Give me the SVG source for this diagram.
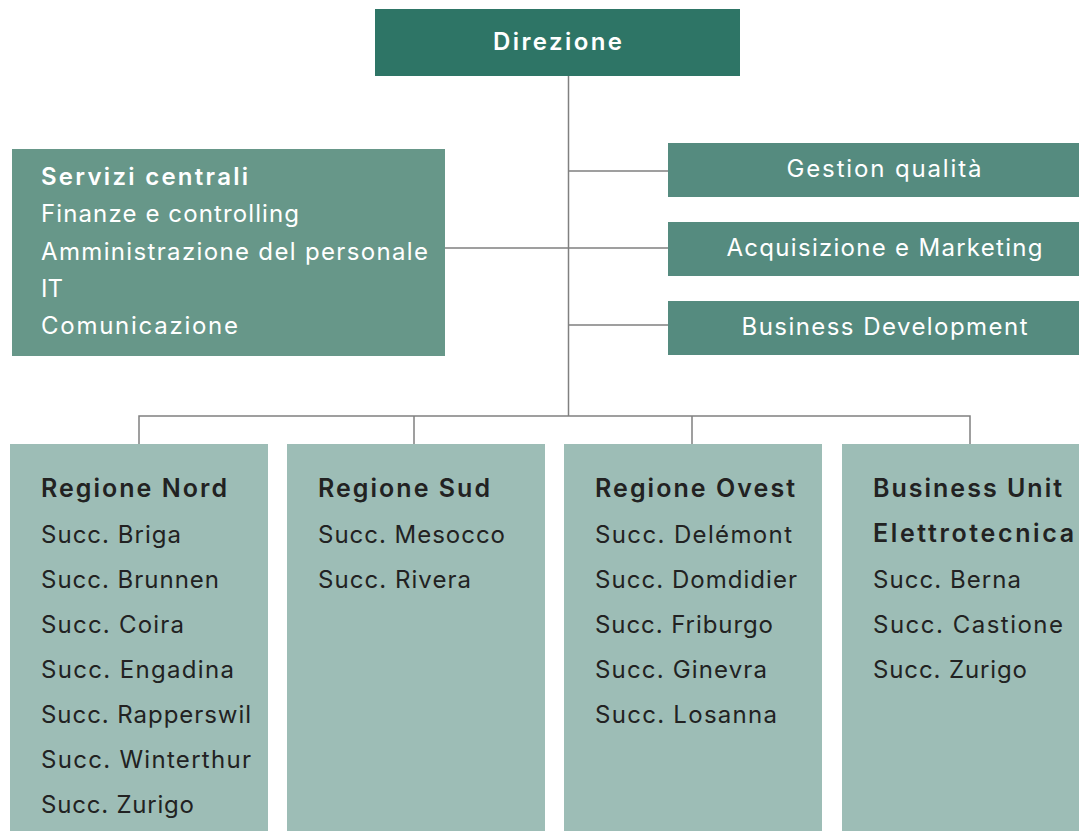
<svg xmlns="http://www.w3.org/2000/svg" width="1079" height="831" viewBox="0 0 1079 831">
<style>
.top{fill:#2e7566}
.sc{fill:#679789}
.rb{fill:#558b7f}
.bb{fill:#9dbdb6}
text{font-family:Inter,"Liberation Sans",sans-serif}
.w{fill:#ffffff;font-size:24px}
.wb{fill:#ffffff;font-size:24px;font-weight:600}
.d{fill:#222222;font-size:24px}
.db{fill:#222222;font-size:25px;font-weight:600}
.c{text-anchor:middle}
.ln{stroke:#808080;stroke-width:1.5;fill:none}
</style>
<g id="connectors">
<path class="ln" d="M568.5 76V416M568.5 171H668M445 248H668M568.5 325H668M139 444V416H970V444M414 416V444M692 416V444"/>
</g>
<g id="direzione"><rect class="top" x="375" y="9" width="365" height="67"/><text class="wb c" x="557.5" y="50" font-size="26" textLength="129" lengthAdjust="spacing">Direzione</text></g>
<g id="servizi"><rect class="sc" x="12" y="149" width="433" height="207"/>
<text class="wb" x="41" y="185" textLength="207" lengthAdjust="spacing">Servizi centrali</text>
<text class="w" x="41" y="222" textLength="258" lengthAdjust="spacing">Finanze e controlling</text>
<text class="w" x="41" y="259.5" textLength="387" lengthAdjust="spacing">Amministrazione del personale</text>
<text class="w" x="41" y="297">IT</text>
<text class="w" x="41" y="334" textLength="197" lengthAdjust="spacing">Comunicazione</text></g>
<g id="gestion"><rect class="rb" x="668" y="143" width="411" height="54"/><text class="w c" x="884" y="177" textLength="195" lengthAdjust="spacing">Gestion qualità</text></g>
<g id="acquisizione"><rect class="rb" x="668" y="222" width="411" height="54"/><text class="w c" x="884.5" y="256" textLength="316" lengthAdjust="spacing">Acquisizione e Marketing</text></g>
<g id="business"><rect class="rb" x="668" y="301" width="411" height="54"/><text class="w c" x="884.5" y="335" textLength="286" lengthAdjust="spacing">Business Development</text></g>
<g id="nord"><rect class="bb" x="10" y="444" width="258" height="387"/>
<text class="db" x="41" y="497" textLength="186" lengthAdjust="spacing">Regione Nord</text>
<text class="d" x="41" y="543" textLength="140" lengthAdjust="spacing">Succ. Briga</text>
<text class="d" x="41" y="588" textLength="178" lengthAdjust="spacing">Succ. Brunnen</text>
<text class="d" x="41" y="633" textLength="143" lengthAdjust="spacing">Succ. Coira</text>
<text class="d" x="41" y="678" textLength="193" lengthAdjust="spacing">Succ. Engadina</text>
<text class="d" x="41" y="723" textLength="210" lengthAdjust="spacing">Succ. Rapperswil</text>
<text class="d" x="41" y="768" textLength="210" lengthAdjust="spacing">Succ. Winterthur</text>
<text class="d" x="41" y="813" textLength="153" lengthAdjust="spacing">Succ. Zurigo</text></g>
<g id="sud"><rect class="bb" x="287" y="444" width="258" height="387"/>
<text class="db" x="318" y="497" textLength="172" lengthAdjust="spacing">Regione Sud</text>
<text class="d" x="318" y="543" textLength="187" lengthAdjust="spacing">Succ. Mesocco</text>
<text class="d" x="318" y="588" textLength="153" lengthAdjust="spacing">Succ. Rivera</text></g>
<g id="ovest"><rect class="bb" x="564" y="444" width="258" height="387"/>
<text class="db" x="595" y="497" textLength="200" lengthAdjust="spacing">Regione Ovest</text>
<text class="d" x="595" y="543" textLength="197" lengthAdjust="spacing">Succ. Delémont</text>
<text class="d" x="595" y="588" textLength="202" lengthAdjust="spacing">Succ. Domdidier</text>
<text class="d" x="595" y="633" textLength="178" lengthAdjust="spacing">Succ. Friburgo</text>
<text class="d" x="595" y="678" textLength="172" lengthAdjust="spacing">Succ. Ginevra</text>
<text class="d" x="595" y="723" textLength="182" lengthAdjust="spacing">Succ. Losanna</text></g>
<g id="bu"><rect class="bb" x="842" y="444" width="237" height="387"/>
<text class="db" x="873" y="497" textLength="189" lengthAdjust="spacing">Business Unit</text>
<text class="db" x="873" y="542" textLength="201" lengthAdjust="spacing">Elettrotecnica</text>
<text class="d" x="873" y="588" textLength="148" lengthAdjust="spacing">Succ. Berna</text>
<text class="d" x="873" y="633" textLength="190" lengthAdjust="spacing">Succ. Castione</text>
<text class="d" x="873" y="678" textLength="154" lengthAdjust="spacing">Succ. Zurigo</text></g>
</svg>
